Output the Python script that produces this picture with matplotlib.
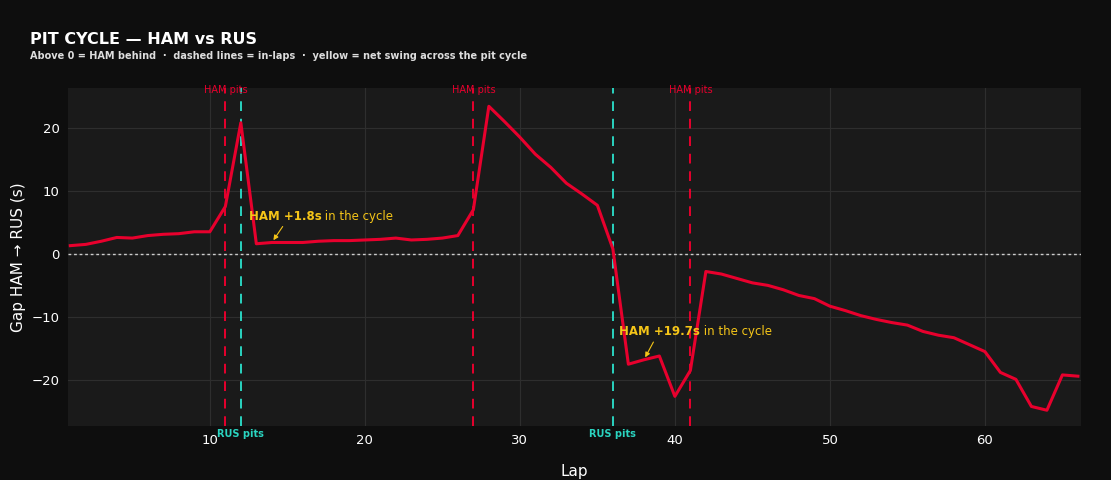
import matplotlib
matplotlib.use("Agg")
import matplotlib.pyplot as plt

LAPS = list(range(1, 67))
GAP = [1.3, 1.5, 2.0, 2.6, 2.5, 2.9, 3.1, 3.2, 3.5, 3.5,
       7.5, 20.8, 1.6, 1.8, 1.8, 1.8, 2.0, 2.1, 2.1, 2.2,
       2.3, 2.5, 2.2, 2.3, 2.5, 2.9, 7.0, 23.4, 21.0, 18.5,
       15.8, 13.7, 11.2, 9.5, 7.7, 0.8, -17.5, -16.8, -16.2, -22.6,
       -18.5, -2.8, -3.2, -3.9, -4.6, -5.0, -5.7, -6.6, -7.1, -8.3,
       -9.0, -9.8, -10.4, -10.9, -11.3, -12.3, -12.9, -13.3, -14.4, -15.5,
       -18.8, -19.9, -24.2, -24.8, -19.2, -19.4]
HAM_PITS = [11, 27, 41]
RUS_PITS = [12, 36]
NOTES = [("HAM +1.8s", " in the cycle", 14, 1.8, 12.5, 6.0),
         ("HAM +19.7s", " in the cycle", 38, -16.8, 36.4, -12.3)]

BG, PANEL, RED, TEAL, GOLD = "#0e0e0e", "#1a1a1a", "#e8002d", "#2ad4c0", "#f5c518"
plt.rcParams.update({"font.family": "DejaVu Sans", "text.color": "white"})

fig = plt.figure(figsize=(11.11, 4.8), dpi=100, facecolor=BG)
ax = fig.add_axes([68 / 1111, 54 / 480, 1013 / 1111, 338 / 480], facecolor=PANEL)
ax.plot(LAPS, GAP, color=RED, lw=2.2, zorder=3)
ax.axhline(0, color="#cccccc", lw=1, ls=(0, (2, 2)), zorder=2)
for p in HAM_PITS:
    ax.axvline(p, color=RED, lw=1.4, ls=(0, (5, 4)), zorder=2)
    ax.text(p, 0.995, "HAM pits", transform=ax.get_xaxis_transform(), color=RED,
            fontsize=7, ha="center", va="center")
for p in RUS_PITS:
    ax.axvline(p, color=TEAL, lw=1.4, ls=(0, (5, 4)), zorder=2)
    ax.text(p, -0.008, "RUS pits", transform=ax.get_xaxis_transform(), color=TEAL,
            fontsize=7, ha="center", va="top", fontweight="bold")
for bold, rest, x, y, tx, ty in NOTES:
    ax.annotate("", xy=(x, y), xytext=(tx + 2.3, ty - 1.3),
                arrowprops=dict(arrowstyle="-|>", color=GOLD, lw=0.8, mutation_scale=7))
    t = ax.text(tx, ty, bold, color=GOLD, fontsize=8.5, fontweight="bold", va="center")
    ax.annotate(rest, xy=(1, 0.5), xycoords=t, color=GOLD, fontsize=8.5, va="center")

ax.set_xlim(0.85, 66.2)
ax.set_ylim(-27.3, 26.3)
ax.set_xticks([10, 20, 30, 40, 50, 60])
ax.set_yticks([-20, -10, 0, 10, 20])
ax.grid(color="#2e2e2e", lw=0.8)
ax.set_axisbelow(True)
for s in ax.spines.values():
    s.set_visible(False)
ax.tick_params(colors="white", length=0, labelsize=9.5, pad=6)
ax.set_xlabel("Lap", color="white", fontsize=11, labelpad=12)
ax.set_ylabel("Gap HAM → RUS (s)", color="white", fontsize=11)
fig.text(30 / 1111, 1 - 40 / 480, "PIT CYCLE — HAM vs RUS", fontsize=11.5, fontweight="bold", va="center")
fig.text(30 / 1111, 1 - 56 / 480,
         "Above 0 = HAM behind  ·  dashed lines = in-laps  ·  yellow = net swing across the pit cycle",
         fontsize=7, fontweight="bold", color="#dddddd", va="center")
fig.savefig("out.png", facecolor=BG)
